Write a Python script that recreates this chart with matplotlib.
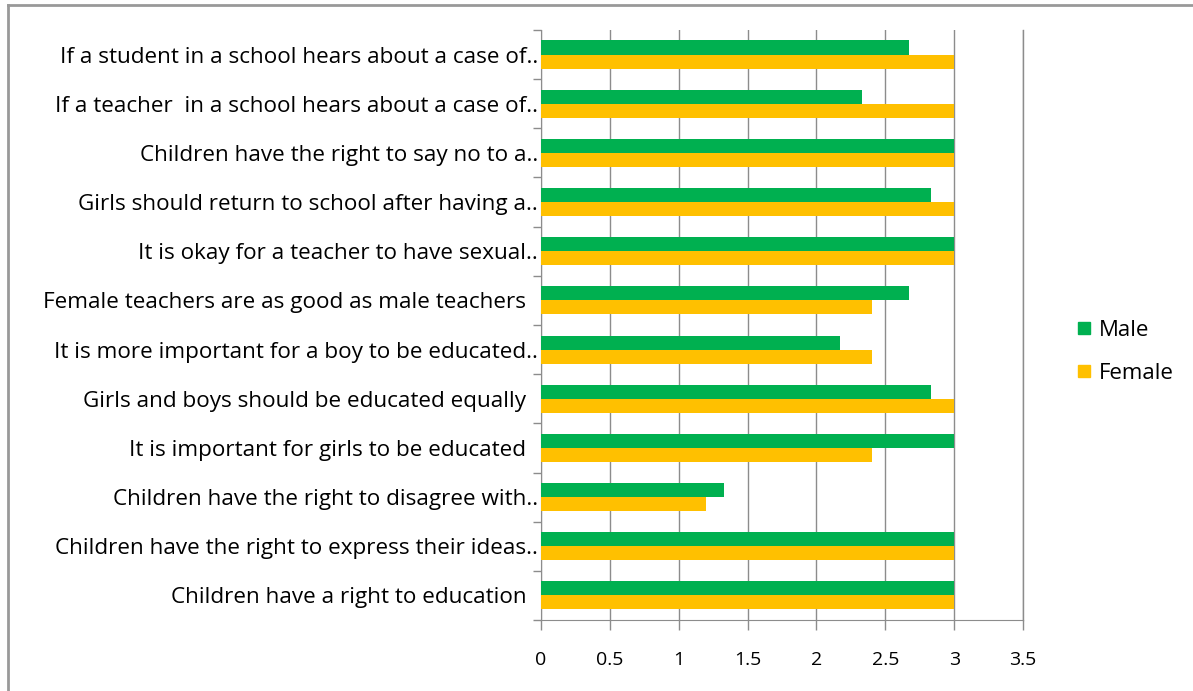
import matplotlib
matplotlib.use("Agg")
import matplotlib.pyplot as plt
from matplotlib.lines import Line2D
import numpy as np

plt.rcParams['font.family'] = ['Open Sans', 'DejaVu Sans']

categories = [
    "If a student in a school hears about a case of..",
    "If a teacher  in a school hears about a case of..",
    "Children have the right to say no to a..",
    "Girls should return to school after having a..",
    "It is okay for a teacher to have sexual..",
    "Female teachers are as good as male teachers  ",
    "It is more important for a boy to be educated..",
    "Girls and boys should be educated equally  ",
    "It is important for girls to be educated  ",
    "Children have the right to disagree with..",
    "Children have the right to express their ideas..",
    "Children have a right to education  ",
]
male = [2.67, 2.33, 3, 2.83, 3, 2.67, 2.17, 2.83, 3, 1.33, 3, 3]
female = [3, 3, 3, 3, 3, 2.4, 2.4, 3, 2.4, 1.2, 3, 3]

green = "#00B050"
gold = "#FFC000"
grid_c = "#8c8c8c"

fig = plt.figure(figsize=(11.93, 6.91), dpi=100)
ax = fig.add_axes([0.4535, 0.1027, 0.404, 0.854])

y = np.arange(len(categories))
h = 0.285
ax.barh(y - h / 2, male, height=h, color=green, label="Male", zorder=3)
ax.barh(y + h / 2, female, height=h, color=gold, label="Female", zorder=3)

ax.set_xlim(0, 3.5)
ax.set_ylim(len(categories) - 0.5, -0.5)
ax.set_xticks(np.arange(0, 3.51, 0.5))
ax.set_xticklabels(["0", "0.5", "1", "1.5", "2", "2.5", "3", "3.5"])
ax.set_yticks(y)
ax.set_yticklabels(categories)
ax.set_yticks(np.arange(-0.5, len(categories), 1), minor=True)

ax.tick_params(axis="y", which="major", length=0, pad=2, labelsize=16.2)
ax.tick_params(axis="y", which="minor", length=6, color=grid_c, width=1)
ax.tick_params(axis="x", length=7, color=grid_c, width=1, pad=15, labelsize=14)

ax.grid(axis="x", color=grid_c, linewidth=1, zorder=0)
ax.axvline(3.5, color=grid_c, linewidth=1, clip_on=False, zorder=0)
for s in ["top", "right"]:
    ax.spines[s].set_visible(False)
for s in ["left", "bottom"]:
    ax.spines[s].set_color(grid_c)

handles = [Line2D([], [], marker="s", linestyle="", color=green, markersize=9),
           Line2D([], [], marker="s", linestyle="", color=gold, markersize=9)]
fig.legend(handles, ["Male", "Female"], loc="center left", bbox_to_anchor=(0.8845, 0.491),
           frameon=False, fontsize=16, handlelength=0.8, handletextpad=0.25, labelspacing=1.0)

# outer frame
fig.add_artist(Line2D([8 / 1193, 1], [1 - 5 / 691, 1 - 5 / 691], color="#999999", linewidth=2))
fig.add_artist(Line2D([8 / 1193, 8 / 1193], [0, 1 - 5 / 691], color="#999999", linewidth=2))

fig.savefig("out.png", dpi=100)
